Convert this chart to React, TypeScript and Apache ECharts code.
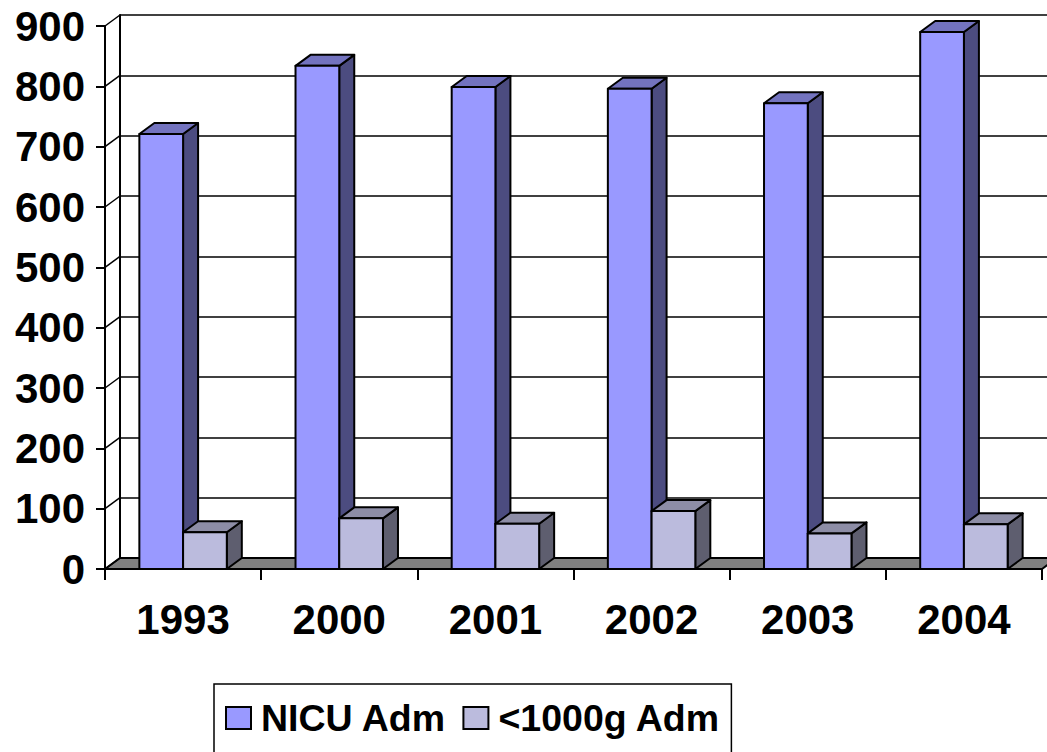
import React, { useEffect, useRef } from "react";
import * as echarts from "echarts";

const categories = ["1993", "2000", "2001", "2002", "2003", "2004"];
const nicuAdm = [721, 834, 799, 796, 772, 890];
const smallAdm = [61, 84, 75, 96, 59, 74];
const yTicks = [0, 100, 200, 300, 400, 500, 600, 700, 800, 900];
const seriesNames = ["NICU Adm", "<1000g Adm"];

const DX = 15;
const DY = -11;
const BAR_FRAC = 0.28;
const FONT = "'Liberation Sans', Arial, sans-serif";

const NICU_COL = { front: "#9999FF", top: "#7373BF", side: "#4C4C80" };
const SMALL_COL = { front: "#BBBBDD", top: "#8D8DA6", side: "#5E5E6F" };

function barRenderer(side: "left" | "right", col: { front: string; top: string; side: string }) {
  return (params: any, api: any) => {
    const cat = api.value(0);
    const val = api.value(1);
    const top = api.coord([cat, val]);
    const base = api.coord([cat, 0]);
    const bw = api.size([1, 0])[0];
    const w = bw * BAR_FRAC;
    const xL = side === "left" ? top[0] - w : top[0];
    const xR = xL + w;
    const yT = top[1];
    const yB = base[1];
    const stroke = { stroke: "#000", lineWidth: 2, lineJoin: "round" };
    return {
      type: "group",
      children: [
        {
          type: "polygon",
          shape: { points: [[xR, yT], [xR + DX, yT + DY], [xR + DX, yB + DY], [xR, yB]] },
          style: { fill: col.side, ...stroke },
        },
        {
          type: "polygon",
          shape: { points: [[xL, yT], [xR, yT], [xR + DX, yT + DY], [xL + DX, yT + DY]] },
          style: { fill: col.top, ...stroke },
        },
        {
          type: "rect",
          shape: { x: xL, y: yT, width: w, height: yB - yT },
          style: { fill: col.front, ...stroke },
        },
      ],
    };
  };
}

export default function App() {
  const ref = useRef<HTMLDivElement>(null);
  useEffect(() => {
    if (!ref.current) return;
    const chart = echarts.init(ref.current, undefined, { renderer: "svg" });
    const lastIdx = categories.length - 1;
    const option: any = {
      animation: false,
      backgroundColor: "#fff",
      grid: [
        { left: 105, right: 5, top: 26, bottom: 183 },
        { left: 105 + DX, right: 5 - DX, top: 26 + DY, bottom: 183 - DY },
      ],
      xAxis: [
        {
          type: "category",
          gridIndex: 0,
          data: categories,
          boundaryGap: true,
          axisLine: { show: true, lineStyle: { color: "#000", width: 2 } },
          axisTick: { show: true, length: 11, lineStyle: { color: "#000", width: 2 } },
          axisLabel: {
            color: "#000",
            fontFamily: FONT,
            fontWeight: "bold",
            fontSize: 42,
            margin: 29,
          },
          z: 10,
        },
        {
          type: "category",
          gridIndex: 1,
          data: categories,
          show: false,
        },
      ],
      yAxis: [
        {
          type: "value",
          gridIndex: 0,
          min: 0,
          max: 900,
          interval: 100,
          axisLine: { show: true, lineStyle: { color: "#000", width: 2 } },
          axisTick: { show: true, length: 9, lineStyle: { color: "#000", width: 2 } },
          axisLabel: {
            color: "#000",
            fontFamily: FONT,
            fontWeight: "bold",
            fontSize: 42,
            margin: 20,
          },
          splitLine: { show: false },
          z: 10,
        },
        {
          type: "value",
          gridIndex: 1,
          min: 0,
          max: 900,
          interval: 100,
          axisLine: { show: true, lineStyle: { color: "#000", width: 2 } },
          axisTick: { show: false },
          axisLabel: { show: false },
          splitLine: { show: true, lineStyle: { color: "#000", width: 1.5 } },
        },
      ],
      legend: {
        data: seriesNames,
        left: 214,
        top: 684,
        orient: "horizontal",
        padding: [15, 11, 40, 11],
        borderColor: "#000",
        borderWidth: 1.5,
        itemGap: 16,
        itemWidth: 25,
        itemHeight: 22,
        icon: "rect",
        textStyle: {
          color: "#000",
          fontFamily: FONT,
          fontWeight: "bold",
          fontSize: 37.5,
          padding: [0, 0, 0, 5],
        },
      },
      series: [
        {
          type: "custom",
          name: "floor",
          xAxisIndex: 0,
          yAxisIndex: 0,
          silent: true,
          data: [[0, 0]],
          renderItem: (params: any, api: any) => {
            const bw = api.size([1, 0])[0];
            const c0 = api.coord([0, 0]);
            const c1 = api.coord([lastIdx, 0]);
            const x0 = c0[0] - bw / 2;
            const x1 = c1[0] + bw / 2;
            const y = c0[1];
            return {
              type: "polygon",
              shape: { points: [[x0, y], [x1, y], [x1 + DX, y + DY], [x0 + DX, y + DY]] },
              style: { fill: "#808080", stroke: "#000", lineWidth: 2 },
            };
          },
        },
        {
          type: "custom",
          name: "sidewall",
          xAxisIndex: 0,
          yAxisIndex: 0,
          silent: true,
          data: yTicks.map((v) => [0, v]),
          renderItem: (params: any, api: any) => {
            const bw = api.size([1, 0])[0];
            const c = api.coord([0, api.value(1)]);
            const x = c[0] - bw / 2;
            return {
              type: "line",
              shape: { x1: x, y1: c[1], x2: x + DX, y2: c[1] + DY },
              style: { stroke: "#000", lineWidth: 1.5 },
            };
          },
        },
        {
          type: "custom",
          name: seriesNames[0],
          xAxisIndex: 0,
          yAxisIndex: 0,
          itemStyle: { color: NICU_COL.front, borderColor: "#000", borderWidth: 1.5 },
          data: nicuAdm.map((v, i) => [i, v]),
          renderItem: barRenderer("left", NICU_COL),
        },
        {
          type: "custom",
          name: seriesNames[1],
          xAxisIndex: 0,
          yAxisIndex: 0,
          itemStyle: { color: SMALL_COL.front, borderColor: "#000", borderWidth: 1.5 },
          data: smallAdm.map((v, i) => [i, v]),
          renderItem: barRenderer("right", SMALL_COL),
        },
      ],
    };
    chart.setOption(option);
    return () => chart.dispose();
  }, []);
  return (
    <div
      ref={ref}
      style={{ position: "fixed", left: 0, top: 0, width: 1047, height: 752, background: "#fff" }}
    />
  );
}
